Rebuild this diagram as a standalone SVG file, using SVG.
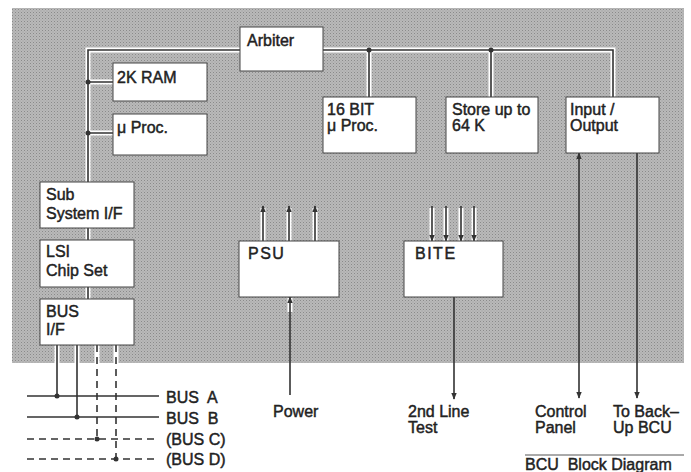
<svg xmlns="http://www.w3.org/2000/svg" width="691" height="472" viewBox="0 0 691 472">
<defs>
<pattern id="dots" width="3" height="3" patternUnits="userSpaceOnUse">
<rect width="3" height="3" fill="#b9b9b9"/>
<rect x="0" y="0" width="1" height="1" fill="#8a8a8a"/>
<rect x="1.5" y="1.5" width="1" height="1" fill="#9c9c9c"/>
</pattern>
<marker id="ah" viewBox="0 0 10 10" refX="9" refY="5" markerWidth="7" markerHeight="9" markerUnits="userSpaceOnUse" orient="auto">
<path d="M0,1 L10,5 L0,9 Z" fill="#333"/>
</marker>
<marker id="ahs" viewBox="0 0 10 10" refX="9" refY="5" markerWidth="7" markerHeight="9" markerUnits="userSpaceOnUse" orient="auto-start-reverse">
<path d="M0,1 L10,5 L0,9 Z" fill="#333"/>
</marker>
</defs>
<style>
.box{fill:#fff;stroke:#444;stroke-width:1}
.t{font-family:"Liberation Sans",Arial,sans-serif;font-size:16px;fill:#222;stroke:#222;stroke-width:0.45}
.lbl{font-family:"Liberation Sans",Arial,sans-serif;font-size:16px;fill:#222;stroke:#222;stroke-width:0.45;white-space:pre}
.halo{fill:none;stroke:#fff;stroke-width:5}
.ln{fill:none;stroke:#333;stroke-width:1.6}
.dash{fill:none;stroke:#333;stroke-width:1.6;stroke-dasharray:7,5}
.dot{fill:#333}
</style>
<rect x="12" y="8" width="672" height="355" fill="url(#dots)"/>
<g id="connectors">
<path class="halo" d="M88,183 V50 H613 V97"/>
<path class="halo" d="M88,82 H113 M88,133 H113 M369,50 V97 M491,50 V97 M88,228 V240 M88,287 V299"/>
<path class="ln" d="M88,183 V50 H613 V97"/>
<path class="ln" d="M88,82 H113 M88,133 H113 M369,50 V97 M491,50 V97 M88,228 V240 M88,287 V299"/>
<circle class="dot" cx="88" cy="82" r="2.5"/>
<circle class="dot" cx="88" cy="133" r="2.5"/>
<circle class="dot" cx="369" cy="50" r="2.5"/>
<circle class="dot" cx="491" cy="50" r="2.5"/>
<path class="halo" d="M57,345 V363 M77,345 V363 M97,345 V363 M116,345 V363" stroke-width="4"/>
<path class="ln" d="M57,345 V396 M77,345 V417"/>
<path class="dash" d="M97,345 V439 M116,345 V459"/>
<path class="ln" d="M27,396 H159 M27,417 H159"/>
<path class="dash" d="M27,439 H159 M27,459 H159"/>
<circle class="dot" cx="57" cy="396" r="2.5"/>
<circle class="dot" cx="77" cy="417" r="2.5"/>
<circle class="dot" cx="97" cy="439" r="2.5"/>
<circle class="dot" cx="116" cy="459" r="2.5"/>
<path class="halo" d="M263,241 V208 M289,241 V208 M315,241 V208 M432,208 V241 M446,208 V241 M461,208 V241 M474,208 V241 M290,298 V312" stroke-width="4"/>
<path class="ln" marker-end="url(#ah)" d="M263,241 V206"/>
<path class="ln" marker-end="url(#ah)" d="M289,241 V206"/>
<path class="ln" marker-end="url(#ah)" d="M315,241 V206"/>
<path class="ln" marker-end="url(#ah)" d="M432,206 V241"/>
<path class="ln" marker-end="url(#ah)" d="M446,206 V241"/>
<path class="ln" marker-end="url(#ah)" d="M461,206 V241"/>
<path class="ln" marker-end="url(#ah)" d="M474,206 V241"/>
<path class="ln" marker-end="url(#ah)" d="M290,395 V297"/>
<path class="ln" marker-end="url(#ah)" d="M454,297 V399"/>
<path class="ln" marker-start="url(#ahs)" marker-end="url(#ah)" d="M579,153 V398"/>
<path class="ln" marker-end="url(#ah)" d="M637,153 V398"/>
</g>
<g id="arbiter"><rect class="box" x="240" y="27" width="83" height="44"/><text class="t" x="247" y="46">Arbiter</text></g>
<g id="ram"><rect class="box" x="113" y="63" width="94" height="38"/><text class="t" x="117" y="83">2K RAM</text></g>
<g id="uproc"><rect class="box" x="113" y="114" width="94" height="41"/><text class="t" x="117" y="133">μ Proc.</text></g>
<g id="bit16"><rect class="box" x="323" y="97" width="93" height="56"/><text class="t" x="327" y="115">16 BIT</text><text class="t" x="327" y="131">μ Proc.</text></g>
<g id="store"><rect class="box" x="446" y="97" width="92" height="56"/><text class="t" x="452" y="115">Store up to</text><text class="t" x="452" y="131">64 K</text></g>
<g id="io"><rect class="box" x="566" y="97" width="93" height="56"/><text class="t" x="570" y="115">Input /</text><text class="t" x="570" y="131">Output</text></g>
<g id="subsys"><rect class="box" x="40" y="182" width="94" height="46"/><text class="t" x="46" y="200">Sub</text><text class="t" x="46" y="219">System I/F</text></g>
<g id="lsi"><rect class="box" x="40" y="240" width="94" height="47"/><text class="t" x="46" y="257">LSI</text><text class="t" x="46" y="276">Chip Set</text></g>
<g id="busif"><rect class="box" x="40" y="299" width="94" height="46"/><text class="t" x="46" y="317">BUS</text><text class="t" x="46" y="335">I/F</text></g>
<g id="psu"><rect class="box" x="239" y="241" width="100" height="56"/><text class="t" x="248" y="259" letter-spacing="1.5">PSU</text></g>
<g id="bite"><rect class="box" x="404" y="241" width="99" height="56"/><text class="t" x="415" y="259" letter-spacing="1.5">BITE</text></g>
<g id="labels">
<text class="lbl" x="166" y="403" xml:space="preserve">BUS  A</text>
<text class="lbl" x="166" y="424" xml:space="preserve">BUS  B</text>
<text class="lbl" x="166" y="445">(BUS C)</text>
<text class="lbl" x="166" y="465">(BUS D)</text>
<text class="t" x="273" y="417">Power</text>
<text class="t" x="408" y="417">2nd Line</text>
<text class="t" x="408" y="433">Test</text>
<text class="t" x="535" y="417">Control</text>
<text class="t" x="535" y="433">Panel</text>
<text class="t" x="613" y="417">To Back–</text>
<text class="t" x="613" y="433">Up BCU</text>
<line x1="525" y1="455" x2="684" y2="455" stroke="#555" stroke-width="1"/>
<text class="lbl" x="525" y="470" font-size="17px" xml:space="preserve">BCU  Block Diagram</text>
</g>
</svg>
